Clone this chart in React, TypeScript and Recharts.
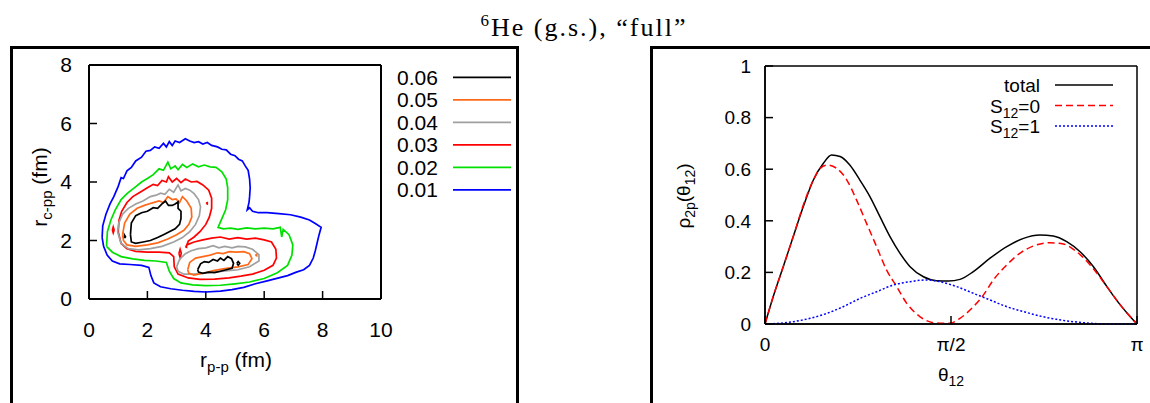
import React from "react";
import { ScatterChart, Scatter, LineChart, Line, XAxis, YAxis, CartesianGrid } from "recharts";

type Pt = [number, number];

const SANS = "'Liberation Sans', Arial, Helvetica, sans-serif";
const SERIF = "'Liberation Serif', 'Times New Roman', serif";
const INK = "#000000";

// ---- left panel: contour plot of the density in (r_p-p, r_c-pp), fm ----
const levelLabels = ["0.06", "0.05", "0.04", "0.03", "0.02", "0.01"];
const levelColors = ["#000000", "#ff6a1a", "#a0a0a0", "#ff0000", "#00e000", "#0000ff"];
const rppDomain = [0, 10];
const rcppDomain = [0, 8];
const rppTicks = [0, 2, 4, 6, 8, 10];
const rcppTicks = [0, 2, 4, 6, 8];

// level 0.01 (blue)
const level01: Pt[] = [
  [0.45, 2.1], [0.47, 2.5], [0.58, 2.9], [0.72, 3.25], [0.85, 3.5], [1.0, 3.85], [1.1, 4.15], [1.18, 4.12],
  [1.3, 4.38], [1.45, 4.5], [1.6, 4.72], [1.8, 4.85], [1.95, 5.05], [2.1, 5.08], [2.25, 5.2], [2.4, 5.15],
  [2.55, 5.32], [2.65, 5.2], [2.75, 5.38], [2.85, 5.25], [2.95, 5.4], [3.1, 5.35], [3.3, 5.48], [3.45, 5.4],
  [3.6, 5.35], [3.75, 5.38], [3.9, 5.3], [4.05, 5.35], [4.2, 5.25], [4.4, 5.2], [4.55, 5.12], [4.7, 5.1],
  [4.85, 4.95], [5.0, 4.9], [5.12, 4.78], [5.25, 4.72], [5.35, 4.55], [5.45, 4.4], [5.5, 4.1], [5.52, 3.8],
  [5.5, 3.5], [5.48, 3.3], [5.42, 3.05], [5.5, 3.12], [5.6, 3.0], [5.8, 2.95], [6.1, 2.95], [6.5, 2.92],
  [6.9, 2.88], [7.25, 2.8], [7.55, 2.7], [7.75, 2.58], [7.95, 2.45], [7.88, 2.2], [7.82, 1.95], [7.75, 1.65],
  [7.68, 1.4], [7.55, 1.15], [7.35, 1.0], [7.1, 0.92], [6.8, 0.8], [6.5, 0.72], [6.1, 0.62], [5.7, 0.52],
  [5.3, 0.4], [4.9, 0.32], [4.5, 0.27], [4.0, 0.24], [3.6, 0.26], [3.2, 0.3], [2.8, 0.35], [2.45, 0.42],
  [2.22, 0.55], [2.12, 0.8], [2.05, 1.08], [1.8, 1.15], [1.4, 1.18], [1.05, 1.2], [0.8, 1.3], [0.62, 1.5],
  [0.5, 1.8], [0.45, 2.1],
];

// level 0.02 (green)
const level02: Pt[] = [
  [0.6, 1.8], [0.63, 2.3], [0.75, 2.7], [0.9, 3.05], [1.1, 3.4], [1.3, 3.6], [1.55, 3.8], [1.8, 4.0],
  [2.0, 4.12], [2.2, 4.25], [2.4, 4.45], [2.55, 4.4], [2.7, 4.68], [2.8, 4.45], [2.95, 4.55], [3.05, 4.42],
  [3.2, 4.6], [3.35, 4.5], [3.55, 4.62], [3.75, 4.52], [3.95, 4.58], [4.15, 4.52], [4.35, 4.5], [4.55, 4.35],
  [4.7, 4.1], [4.75, 3.8], [4.75, 3.4], [4.68, 3.05], [4.55, 2.75], [4.42, 2.45], [4.6, 2.4], [4.85, 2.42],
  [5.1, 2.38], [5.4, 2.43], [5.7, 2.4], [6.0, 2.42], [6.3, 2.4], [6.55, 2.45], [6.6, 2.12], [6.65, 2.38],
  [6.85, 2.2], [6.98, 1.85], [6.95, 1.5], [6.8, 1.15], [6.45, 0.9], [6.0, 0.7], [5.5, 0.58], [5.0, 0.52],
  [4.5, 0.47], [4.0, 0.46], [3.55, 0.48], [3.15, 0.55], [2.9, 0.7], [2.75, 0.95], [2.65, 1.25], [2.3, 1.3],
  [1.9, 1.32], [1.5, 1.37], [1.1, 1.45], [0.8, 1.6], [0.6, 1.8],
];

// level 0.03 (red), one loop around both lobes plus small islands
const level03: Pt[] = [
  [1.0, 2.3], [1.03, 2.7], [1.12, 3.0], [1.3, 3.3], [1.5, 3.5], [1.75, 3.65], [2.0, 3.8], [2.2, 3.92],
  [2.35, 3.88], [2.5, 4.05], [2.65, 4.0], [2.72, 4.18], [2.85, 4.0], [3.0, 4.12], [3.15, 3.98], [3.3, 4.1],
  [3.5, 4.0], [3.7, 4.02], [3.9, 3.9], [4.1, 3.72], [4.2, 3.45], [4.2, 3.1], [4.12, 2.8], [4.0, 2.55],
  [3.8, 2.3], [3.6, 2.12], [3.4, 1.98], [3.35, 1.85], [3.6, 1.95], [3.9, 2.02], [4.2, 2.08], [4.5, 2.12],
  [4.8, 2.05], [5.1, 2.1], [5.4, 2.05], [5.7, 2.08], [6.0, 2.02], [6.25, 1.95], [6.4, 1.7], [6.42, 1.4],
  [6.3, 1.15], [6.0, 0.98], [5.6, 0.85], [5.2, 0.78], [4.8, 0.72], [4.3, 0.68], [3.8, 0.67], [3.4, 0.72],
  [3.05, 0.85], [2.92, 1.1], [2.9, 1.45], [2.75, 1.58], [2.4, 1.6], [2.0, 1.6], [1.6, 1.63], [1.3, 1.72],
  [1.1, 1.9], [1.0, 2.3],
];
const level03Islands: Pt[][] = [
  [[0.8, 2.36], [0.83, 2.46], [0.86, 2.36], [0.83, 2.26], [0.8, 2.36]],
  [[3.08, 1.56], [3.12, 1.7], [3.16, 1.56], [3.12, 1.42], [3.08, 1.56]],
  [[3.3, 1.79], [3.34, 1.81], [3.34, 1.77], [3.3, 1.79]],
  [[4.01, 3.27], [4.05, 3.29], [4.05, 3.25], [4.01, 3.27]],
];

// level 0.04 (grey), two lobes
const level04Left: Pt[] = [
  [0.98, 2.3], [1.02, 2.6], [1.15, 2.9], [1.35, 3.1], [1.6, 3.25], [1.85, 3.35], [2.1, 3.5], [2.3, 3.55],
  [2.45, 3.62], [2.6, 3.58], [2.75, 3.75], [2.9, 3.65], [3.05, 3.9], [3.15, 3.7], [3.3, 3.78], [3.45, 3.72],
  [3.6, 3.6], [3.75, 3.4], [3.82, 3.15], [3.78, 2.85], [3.65, 2.55], [3.45, 2.3], [3.2, 2.1], [2.9, 1.95],
  [2.5, 1.8], [2.1, 1.72], [1.7, 1.68], [1.35, 1.72], [1.1, 1.9], [0.98, 2.3],
];
const level04Right: Pt[] = [
  [3.0, 1.1], [3.1, 1.35], [3.3, 1.55], [3.5, 1.65], [3.75, 1.72], [4.0, 1.75], [4.25, 1.82], [4.45, 1.75],
  [4.65, 1.8], [4.9, 1.75], [5.1, 1.8], [5.35, 1.78], [5.6, 1.7], [5.82, 1.52], [5.82, 1.3], [5.5, 1.1],
  [5.1, 1.0], [4.6, 0.95], [4.1, 0.9], [3.6, 0.85], [3.25, 0.85], [3.05, 0.95], [3.0, 1.1],
];

// level 0.05 (orange)
const level05Left: Pt[] = [
  [1.15, 2.2], [1.22, 2.6], [1.4, 2.9], [1.65, 3.1], [1.9, 3.2], [2.15, 3.28], [2.4, 3.35], [2.55, 3.3],
  [2.7, 3.5], [2.85, 3.4], [2.98, 3.42], [3.1, 3.3], [3.2, 3.5], [3.35, 3.35], [3.5, 3.1], [3.52, 2.8],
  [3.42, 2.55], [3.25, 2.35], [3.0, 2.2], [2.7, 2.05], [2.35, 1.92], [2.0, 1.85], [1.6, 1.8], [1.3, 1.85],
  [1.18, 2.0], [1.15, 2.2],
];
const level05Right: Pt[] = [
  [3.38, 1.0], [3.45, 1.25], [3.65, 1.4], [3.9, 1.45], [4.15, 1.5], [4.4, 1.58], [4.6, 1.55], [4.8, 1.62],
  [5.05, 1.6], [5.3, 1.62], [5.5, 1.55], [5.58, 1.38], [5.45, 1.18], [5.1, 1.1], [4.7, 1.05], [4.3, 0.98],
  [3.9, 0.88], [3.6, 0.82], [3.42, 0.88], [3.38, 1.0],
];
const level05Islands: Pt[][] = [[[5.7, 1.5], [5.74, 1.52], [5.74, 1.48], [5.7, 1.5]]];

// level 0.06 (black)
const level06Left: Pt[] = [
  [1.42, 2.2], [1.45, 2.6], [1.6, 2.85], [1.8, 2.95], [2.0, 3.0], [2.2, 3.12], [2.35, 3.1], [2.5, 3.25],
  [2.62, 3.35], [2.72, 3.2], [2.85, 3.2], [2.95, 3.25], [3.05, 3.32], [3.05, 3.1], [3.15, 3.0], [3.15, 2.75],
  [3.1, 2.55], [2.95, 2.4], [2.75, 2.3], [2.55, 2.2], [2.35, 2.1], [2.1, 2.0], [1.85, 1.95], [1.6, 1.9],
  [1.45, 1.95], [1.42, 2.2],
];
const level06Right: Pt[] = [
  [3.72, 1.0], [3.82, 1.2], [3.95, 1.28], [4.1, 1.25], [4.25, 1.35], [4.4, 1.3], [4.5, 1.4], [4.62, 1.32],
  [4.75, 1.45], [4.88, 1.38], [4.95, 1.22], [4.9, 1.05], [4.7, 1.0], [4.5, 0.95], [4.3, 0.9], [4.1, 0.92],
  [3.9, 0.88], [3.75, 0.92], [3.72, 1.0],
];
const level06Islands: Pt[][] = [
  [[5.06, 1.22], [5.11, 1.28], [5.16, 1.22], [5.11, 1.16], [5.06, 1.22]],
  [[1.22, 2.08], [1.25, 2.13], [1.22, 2.18], [1.22, 2.08]],
];

// ---- right panel: rho_2p(theta_12), theta in units of pi ----
const thetaDomain = [0, 1];
const rhoDomain = [0, 1];
const thetaTicks = [0, 0.5, 1];
const thetaTickLabels = ["0", "π/2", "π"];
const rhoTicks = [0, 0.2, 0.4, 0.6, 0.8, 1];

const thetaTotal = [0, 0.022, 0.049, 0.076, 0.103, 0.13, 0.157, 0.179, 0.202, 0.228, 0.255, 0.282, 0.309, 0.336,
  0.363, 0.39, 0.426, 0.461, 0.493, 0.524, 0.56, 0.605, 0.65, 0.695, 0.739, 0.775, 0.811, 0.847, 0.883, 0.919,
  0.955, 0.982, 1];
const total = [0, 0.106, 0.222, 0.339, 0.455, 0.558, 0.623, 0.655, 0.649, 0.616, 0.558, 0.494, 0.416, 0.339,
  0.274, 0.222, 0.183, 0.168, 0.167, 0.173, 0.203, 0.255, 0.3, 0.332, 0.345, 0.341, 0.319, 0.28, 0.222, 0.145,
  0.074, 0.028, 0];

const thetaS0 = [0, 0.022, 0.049, 0.076, 0.103, 0.13, 0.148, 0.166, 0.193, 0.22, 0.246, 0.273, 0.3, 0.327,
  0.354, 0.381, 0.417, 0.453, 0.479, 0.497, 0.524, 0.56, 0.587, 0.614, 0.65, 0.685, 0.721, 0.766, 0.802, 0.838,
  0.874, 0.919, 0.955, 1];
const s0 = [0, 0.106, 0.222, 0.339, 0.461, 0.558, 0.603, 0.616, 0.603, 0.558, 0.481, 0.39, 0.3, 0.209,
  0.145, 0.08, 0.028, 0.005, 0.003, 0.003, 0.022, 0.067, 0.112, 0.171, 0.229, 0.274, 0.302, 0.315, 0.31, 0.28,
  0.229, 0.145, 0.074, 0];

const thetaS1 = [0, 0.04, 0.076, 0.121, 0.166, 0.21, 0.255, 0.3, 0.345, 0.39, 0.435, 0.47, 0.515, 0.56, 0.605,
  0.65, 0.695, 0.739, 0.784, 0.829, 0.874, 0.919, 1];
const s1 = [0, 0.003, 0.009, 0.022, 0.041, 0.067, 0.099, 0.125, 0.151, 0.164, 0.171, 0.164, 0.145, 0.119, 0.093,
  0.067, 0.048, 0.031, 0.018, 0.009, 0.003, 0, 0];

const toXY = (pts: Pt[]) => pts.map(([x, y]) => ({ x, y }));
const toSeries = (t: number[], v: number[]) => t.map((x, i) => ({ t: x, v: v[i] }));

const contours: { level: number; pts: Pt[] }[] = [
  { level: 5, pts: level01 },
  { level: 4, pts: level02 },
  { level: 3, pts: level03 },
  ...level03Islands.map((pts) => ({ level: 3, pts })),
  { level: 2, pts: level04Left },
  { level: 2, pts: level04Right },
  { level: 1, pts: level05Left },
  { level: 1, pts: level05Right },
  ...level05Islands.map((pts) => ({ level: 1, pts })),
  { level: 0, pts: level06Left },
  { level: 0, pts: level06Right },
  ...level06Islands.map((pts) => ({ level: 0, pts })),
];

const rhoSeries = [
  { name: "total", data: toSeries(thetaTotal, total), color: "#000000", dash: undefined },
  { name: "S0", data: toSeries(thetaS0, s0), color: "#ff0000", dash: "7 4" },
  { name: "S1", data: toSeries(thetaS1, s1), color: "#0000ff", dash: "2 2" },
];

const noShape = () => <g />;

// gnuplot-style border: four axes, ticks pointing inwards; the grid only at the domain ends
function ContourPanel() {
  const axis = { stroke: INK, strokeWidth: 2 };
  const tl = { stroke: INK, strokeWidth: 1.5 };
  const tick = { fill: INK, fontSize: 21, fontFamily: SANS };
  return (
    <ScatterChart width={520} height={403} margin={{ top: 65, right: 139, bottom: 44, left: 19 }}>
      <CartesianGrid xAxisId="b" yAxisId="l" verticalValues={rppDomain} horizontalValues={rcppDomain}
        stroke={INK} strokeWidth={2} strokeDasharray="" />
      <XAxis xAxisId="b" type="number" dataKey="x" domain={rppDomain} ticks={rppTicks} interval={0} mirror={false}
        height={60} tickSize={-8} tickMargin={31} axisLine={axis} tickLine={tl} tick={tick} />
      <XAxis xAxisId="t" orientation="top" type="number" dataKey="x" domain={rppDomain} ticks={rppTicks} mirror={false}
        interval={0} height={0} tickSize={-8} axisLine={axis} tickLine={tl} tick={false} />
      <YAxis yAxisId="l" type="number" dataKey="y" domain={rcppDomain} ticks={rcppTicks} interval={0} mirror={false}
        width={70} tickSize={-8} tickMargin={25} axisLine={axis} tickLine={tl} tick={tick} />
      <YAxis yAxisId="r" orientation="right" type="number" dataKey="y" domain={rcppDomain} ticks={rcppTicks} mirror={false}
        interval={0} width={0} tickSize={-8} axisLine={axis} tickLine={tl} tick={false} />
      {contours.map((c, i) => (
        <Scatter key={i} xAxisId="b" yAxisId="l" data={toXY(c.pts)} fill={levelColors[c.level]}
          line={{ stroke: levelColors[c.level], strokeWidth: 1.7 }} lineJointType="linear"
          shape={noShape} isAnimationActive={false} />
      ))}
    </ScatterChart>
  );
}

function RhoPanel() {
  const axis = { stroke: INK, strokeWidth: 1.5 };
  const tl = { stroke: INK, strokeWidth: 1.5 };
  const tick = { fill: INK, fontSize: 19, fontFamily: SANS };
  return (
    <LineChart width={510} height={403} margin={{ top: 66, right: 13, bottom: 29, left: 55 }}>
      <CartesianGrid xAxisId="b" yAxisId="l" verticalValues={thetaDomain} horizontalValues={rhoDomain}
        stroke={INK} strokeWidth={1.5} strokeDasharray="" />
      <XAxis xAxisId="b" type="number" dataKey="t" domain={thetaDomain} ticks={thetaTicks} interval={0} mirror={false}
        height={50} tickSize={-8} tickMargin={22} axisLine={axis} tickLine={tl} tick={tick}
        tickFormatter={(v: number) => thetaTickLabels[thetaTicks.indexOf(v)]} />
      <XAxis xAxisId="t" orientation="top" type="number" dataKey="t" domain={thetaDomain} ticks={thetaTicks} mirror={false}
        interval={0} height={0} tickSize={-8} axisLine={axis} tickLine={tl} tick={false} />
      <YAxis yAxisId="l" type="number" domain={rhoDomain} ticks={rhoTicks} interval={0} width={70} mirror={false}
        tickSize={-8} tickMargin={22} axisLine={axis} tickLine={tl} tick={tick} />
      <YAxis yAxisId="r" orientation="right" type="number" domain={rhoDomain} ticks={rhoTicks} interval={0} mirror={false}
        width={0} tickSize={-8} axisLine={axis} tickLine={tl} tick={false} />
      {rhoSeries.map((s) => (
        <Line key={s.name} xAxisId="b" yAxisId="l" data={s.data} dataKey="v" type="monotone" dot={false}
          stroke={s.color} strokeWidth={1.5} strokeDasharray={s.dash} isAnimationActive={false} />
      ))}
    </LineChart>
  );
}

function Overlay() {
  return (
    <svg width={1150} height={403} style={{ position: "absolute", left: 0, top: 0, pointerEvents: "none" }}>
      {/* title */}
      <text x={584} y={36} textAnchor="middle" fontFamily={SERIF} fontSize={26} letterSpacing={2}>
        <tspan fontSize={17} dy={-10}>6</tspan>
        <tspan dy={10}>He (g.s.),  “full”</tspan>
      </text>

      {/* left legend */}
      {levelLabels.map((lab, i) => (
        <g key={lab}>
          <text x={397} y={77.3 + 22.5 * i + 7.5} fontFamily={SANS} fontSize={21}>{lab}</text>
          <line x1={453} x2={511} y1={77.3 + 22.5 * i} y2={77.3 + 22.5 * i} stroke={levelColors[i]} strokeWidth={1.7} />
        </g>
      ))}

      {/* left axis titles */}
      <text x={236} y={367} textAnchor="middle" fontFamily={SANS} fontSize={21}>
        r<tspan fontSize={15} dy={5}>p-p</tspan><tspan dy={-5}> (fm)</tspan>
      </text>
      <text x={47} y={187} textAnchor="middle" fontFamily={SANS} fontSize={21} transform="rotate(-90 47 187)">
        r<tspan fontSize={15} dy={5}>c-pp</tspan><tspan dy={-5}> (fm)</tspan>
      </text>

      {/* right legend */}
      <text x={1040} y={92} textAnchor="end" fontFamily={SANS} fontSize={19}>total</text>
      <line x1={1055} x2={1113} y1={85} y2={85} stroke={INK} strokeWidth={1.5} />
      <text x={1040} y={112.5} textAnchor="end" fontFamily={SANS} fontSize={19}>
        S<tspan fontSize={14} dy={5}>12</tspan><tspan dy={-5}>=0</tspan>
      </text>
      <line x1={1055} x2={1113} y1={105.5} y2={105.5} stroke="#ff0000" strokeWidth={1.5} strokeDasharray="7 4" />
      <text x={1040} y={133} textAnchor="end" fontFamily={SANS} fontSize={19}>
        S<tspan fontSize={14} dy={5}>12</tspan><tspan dy={-5}>=1</tspan>
      </text>
      <line x1={1055} x2={1113} y1={126} y2={126} stroke="#0000ff" strokeWidth={1.5} strokeDasharray="2 2" />

      {/* right axis titles */}
      <text x={951} y={381} textAnchor="middle" fontFamily={SANS} fontSize={19}>
        θ<tspan fontSize={14} dy={5}>12</tspan>
      </text>
      <text x={690} y={196} textAnchor="middle" fontFamily={SANS} fontSize={19} transform="rotate(-90 690 196)">
        ρ<tspan fontSize={14} dy={5}>2p</tspan><tspan dy={-5}>(θ</tspan><tspan fontSize={14} dy={5}>12</tspan><tspan dy={-5}>)</tspan>
      </text>
    </svg>
  );
}

export default function App() {
  return (
    <div style={{ position: "absolute", left: 0, top: 0, width: 1150, height: 403, overflow: "hidden", background: "#fff" }}>
      {/* subfigure frames */}
      <div style={{ position: "absolute", left: 10, top: 46, width: 509, height: 420, border: "3px solid #000", boxSizing: "border-box" }} />
      <div style={{ position: "absolute", left: 650, top: 46, width: 540, height: 420, border: "3px solid #000", boxSizing: "border-box" }} />
      <div style={{ position: "absolute", left: 0, top: 0, width: 520, height: 403 }}>
        <ContourPanel />
      </div>
      <div style={{ position: "absolute", left: 640, top: 0, width: 510, height: 403 }}>
        <RhoPanel />
      </div>
      <Overlay />
    </div>
  );
}
